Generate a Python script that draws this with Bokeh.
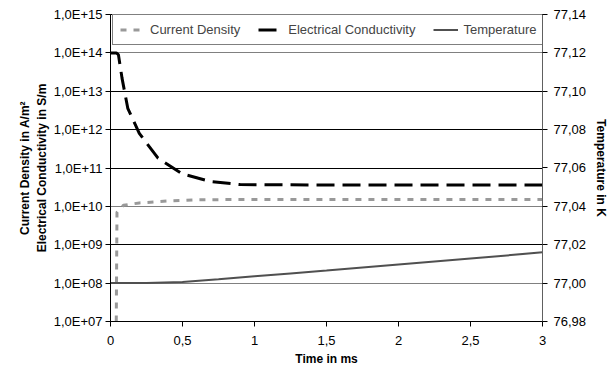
from bokeh.plotting import figure
from bokeh.models import (Range1d, LinearAxis, FixedTicker, CustomJSTickFormatter,
                          Legend, LegendItem, Grid)
from bokeh.embed import file_html
from bokeh.resources import INLINE

# ---- data ----
time_cd = [0.04, 0.045, 0.09, 0.2, 0.4, 0.6, 0.8, 1.0, 1.5, 2.0, 2.5, 3.0]
current_density = [1.0e7, 7.0e9, 1.07e10, 1.23e10, 1.38e10, 1.48e10, 1.5e10, 1.5e10, 1.5e10, 1.5e10, 1.5e10, 1.5e10]

time_ec = [0.0, 0.04, 0.055, 0.08, 0.12, 0.2, 0.33, 0.5, 0.7, 0.9, 1.5, 2.0, 2.5, 3.0]
conductivity = [1.0e14, 1.0e14, 9.0e13, 2.2e13, 3.6e12, 8.0e11, 1.8e11, 7.0e10, 4.4e10, 3.7e10, 3.6e10, 3.6e10, 3.6e10, 3.6e10]

time_t = [0.0, 0.25, 0.5, 0.75, 1.0, 1.25, 1.5, 2.0, 2.5, 3.0]
temperature = [77.0, 77.0001, 77.0006, 77.0020, 77.0035, 77.005, 77.0065, 77.0097, 77.0128, 77.016]

left_ticks = [1e7, 1e8, 1e9, 1e10, 1e11, 1e12, 1e13, 1e14, 1e15]
right_ticks = [76.98, 77.00, 77.02, 77.04, 77.06, 77.08, 77.10, 77.12, 77.14]
x_ticks = [0, 0.5, 1, 1.5, 2, 2.5, 3]
black_grid = [1e9, 1e11, 1e12, 1e13]
gray_grid = [1e8, 1e10, 1e14]

FONT = "Liberation Sans"

p = figure(width=611, height=369, output_backend="svg", toolbar_location=None,
           title=None, y_axis_type="log",
           x_range=Range1d(0, 3), y_range=Range1d(1e7, 1e15),
           min_border_left=110, min_border_right=68, min_border_top=14, min_border_bottom=48)
p.extra_y_ranges = {"temp": Range1d(76.98, 77.14)}
p.outline_line_color = "black"
p.background_fill_color = "white"
p.xgrid.visible = False
p.ygrid.visible = False

g1 = Grid(dimension=1, ticker=FixedTicker(ticks=black_grid), grid_line_color="black", grid_line_width=1)
g2 = Grid(dimension=1, ticker=FixedTicker(ticks=gray_grid), grid_line_color="#808080", grid_line_width=1)
p.add_layout(g1)
p.add_layout(g2)

r_cd = p.line(time_cd, current_density, line_color="#999999", line_width=3, line_dash="6 7")
r_ec = p.line(time_ec, conductivity, line_color="black", line_width=3, line_dash="18 8")
r_t = p.line(time_t, temperature, line_color="#505050", line_width=2, y_range_name="temp")

# left axis
ya = p.yaxis[0]
ya.ticker = FixedTicker(ticks=left_ticks)
ya.formatter = CustomJSTickFormatter(code="""
const e = Math.round(Math.log10(tick));
return "1,0E+" + (e < 10 ? "0" : "") + e;
""")
ya.axis_label = "Current Density in A/m²\nElectrical Conductivity in S/m"

# x axis
xa = p.xaxis[0]
xa.ticker = FixedTicker(ticks=x_ticks)
xa.formatter = CustomJSTickFormatter(code="return tick.toString().replace('.', ',');")
xa.axis_label = "Time in ms"

# right axis
ra = LinearAxis(y_range_name="temp", axis_label="Temperature in K")
ra.ticker = FixedTicker(ticks=right_ticks)
ra.formatter = CustomJSTickFormatter(code="return tick.toFixed(2).replace('.', ',');")
p.add_layout(ra, "right")

for ax in (ya, xa, ra):
    ax.major_label_text_font = FONT
    ax.major_label_text_font_size = "13px"
    ax.major_label_text_color = "black"
    ax.axis_label_text_font = FONT
    ax.axis_label_text_font_size = "12px"
    ax.axis_label_text_font_style = "bold"
    ax.axis_label_text_color = "black"
    ax.major_tick_out = 5
    ax.major_tick_in = 0
    ax.minor_tick_out = 0
    ax.minor_tick_in = 0
    ax.major_tick_line_color = "black"
    ax.axis_line_color = "black"
    ax.major_label_standoff = 3
ra.axis_line_color = "#606060"
ra.major_label_standoff = 6
ya.axis_label_standoff = 2
ra.axis_label_standoff = 5
xa.major_label_standoff = 9
xa.axis_label_standoff = 4

legend = Legend(items=[LegendItem(label="Current Density", renderers=[r_cd]),
                       LegendItem(label="Electrical Conductivity", renderers=[r_ec]),
                       LegendItem(label="Temperature", renderers=[r_t])],
                orientation="horizontal", location=(2, 276),
                label_text_font=FONT, label_text_font_size="13px",
                border_line_color="black", border_line_width=1,
                background_fill_color="white", background_fill_alpha=1,
                spacing=18, padding=7, glyph_width=25, glyph_height=15,
                label_height=15, label_standoff=5, margin=0)
p.add_layout(legend)

open("out.html", "w").write(file_html(p, INLINE))
